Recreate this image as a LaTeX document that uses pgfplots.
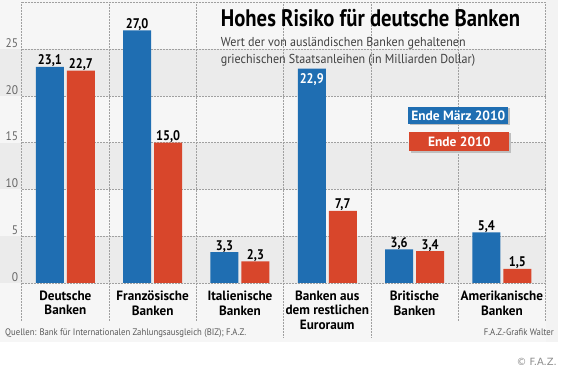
\documentclass[border=0pt]{standalone}
\usepackage{pgfplots}
\pgfplotsset{compat=1.18}
\usepackage{fontspec}
\setmainfont{PT Sans}
\newfontfamily\ftitle[FakeStretch=0.865]{PT Sans}
\newfontfamily\fcat[FakeStretch=0.98]{PT Sans}
\newfontfamily\fval[FakeStretch=0.88]{PT Sans}
\newfontfamily\ftick[FakeStretch=0.92]{PT Sans}
\newfontfamily\fsub[FakeStretch=0.93]{PT Sans}
\newfontfamily\fleg[FakeStretch=1.0]{PT Sans}
\newfontfamily\fsrc[FakeStretch=0.92]{PT Sans}
\newfontfamily\fcopy{DejaVu Sans}
\definecolor{fazblue}{HTML}{1F6EB2}
\definecolor{fazred}{HTML}{D8462B}
\definecolor{bandgray}{HTML}{EBEBEB}
\definecolor{panel}{HTML}{F6F6F6}
\definecolor{gridc}{HTML}{A0A0A0}
\begin{document}
\begin{tikzpicture}
\begin{scope}[x=1bp,y=1bp]
\useasboundingbox (0,0) rectangle (566,376);
\fill[white] (0,0) rectangle (566,376);
\fill[panel] (0,34) rectangle (558,376);
\fill[bandgray!60] (545.5,34) rectangle (558,376);
\fill[bandgray] (0,93.3) rectangle (545.5,140.08);
\fill[bandgray] (0,186.87) rectangle (545.5,233.65);
\fill[bandgray] (0,280.44) rectangle (545.5,327.2);
\end{scope}
\begin{axis}[
  at={(21.7bp,93.3bp)}, anchor=south west,
  scale only axis, width=523.8bp, height=280.7bp,
  xmin=-0.5, xmax=5.5, ymin=0, ymax=30,
  clip=false,
  ybar=3bp, bar width=28bp,
  axis line style={draw=none},
  major tick length=0pt,
  ytick={0,5,10,15,20,25,30}, yticklabels={0,5,10,15,20,25,{}},
  ymajorgrids,
  grid style={gridc, line width=0.6bp, dash pattern=on 0.6bp off 0.9bp},
  xtick={0,1,2,3,4,5},
  xticklabels={{Deutsche\\Banken},{Französische\\Banken},{Italienische\\Banken},{Banken aus\\dem restlichen\\Euroraum},{Britische\\Banken},{Amerikanische\\Banken}},
  xticklabel style={font=\fcat\bfseries\fontsize{13.5}{14.8}\selectfont, align=center, anchor=north, inner sep=0pt, yshift=-7.5bp},
  yticklabel style={font=\ftick\fontsize{12.5}{12.5}\selectfont, text=black!60, anchor=base east, inner sep=0pt, xshift=-3.5bp, yshift=1.8bp},
  point meta=explicit symbolic,
  nodes near coords,
  every node near coord/.append style={font=\fval\bfseries\fontsize{14}{14}\selectfont, text=black, inner sep=0pt, anchor=base, yshift=2bp},
]
\pgfplotsinvokeforeach{-0.5,0.5,1.5,4.5,5.5}{
  \draw[gridc, line width=0.6bp, dash pattern=on 0.6bp off 0.9bp] (axis cs:#1,30) -- (axis cs:#1,-4);
}
\pgfplotsinvokeforeach{2.5,3.5}{
  \draw[gridc, line width=0.6bp, dash pattern=on 0.6bp off 0.9bp] (axis cs:#1,30) -- (axis cs:#1,-5.8);
}
% Ende März 2010
\addplot[fill=fazblue, draw=none,
  nodes near coords={\ifnum\coordindex=3\relax\raisebox{-16.5bp}{\color{white}\pgfplotspointmeta}\else\pgfplotspointmeta\fi}]
  coordinates {(0,23.1) [{23,1}] (1,27.0) [{27,0}] (2,3.3) [{3,3}] (3,22.9) [{22,9}] (4,3.6) [{3,6}] (5,5.4) [{5,4}]};
% Ende 2010
\addplot[fill=fazred, draw=none]
  coordinates {(0,22.7) [{22,7}] (1,15.0) [{15,0}] (2,2.3) [{2,3}] (3,7.7) [{7,7}] (4,3.4) [{3,4}] (5,1.5) [{1,5}]};
\end{axis}
\begin{scope}[x=1bp,y=1bp]
% title and subtitle
\node[anchor=base west, inner sep=0pt, font=\ftitle\bfseries\fontsize{24}{24}\selectfont] at (220.7,349.3) {Hohes Risiko für deutsche Banken};
\node[anchor=base west, inner sep=0pt, font=\fsub\fontsize{13}{13}\selectfont, text=black!75] at (220.7,329.3) {Wert der von ausländischen Banken gehaltenen};
\node[anchor=base west, inner sep=0pt, font=\fsub\fontsize{13}{13}\selectfont, text=black!75] at (220.7,312.7) {griechischen Staatsanleihen (in Milliarden Dollar)};
% legend
\fill[black!25] (409.8,251.2) rectangle (509.8,267.8);
\fill[fazblue] (408.3,252.7) rectangle (508.3,269.3);
\node[font=\fleg\bfseries\fontsize{13.5}{13.5}\selectfont, text=white, inner sep=0pt] at (458.3,261) {Ende März 2010};
\fill[black!25] (410.8,223.5) rectangle (510.8,242.8);
\fill[fazred] (409.3,225) rectangle (509.3,244.3);
\node[font=\fleg\bfseries\fontsize{13.5}{13.5}\selectfont, text=white, inner sep=0pt] at (459.3,234.6) {Ende 2010};
% sources
\node[anchor=base west, inner sep=0pt, font=\fsrc\fontsize{9.5}{9.5}\selectfont, text=black!65] at (5,41) {Quellen: Bank für Internationalen Zahlungsausgleich (BIZ); F.A.Z.};
\node[anchor=base east, inner sep=0pt, font=\fsrc\fontsize{9.5}{9.5}\selectfont, text=black!65] at (554,41) {F.A.Z.-Grafik Walter};
\node[anchor=base east, inner sep=0pt, font=\fcopy\fontsize{10}{10}\selectfont, text=black!45] at (557,11) {© F.A.Z.};
\end{scope}
\end{tikzpicture}
\end{document}
